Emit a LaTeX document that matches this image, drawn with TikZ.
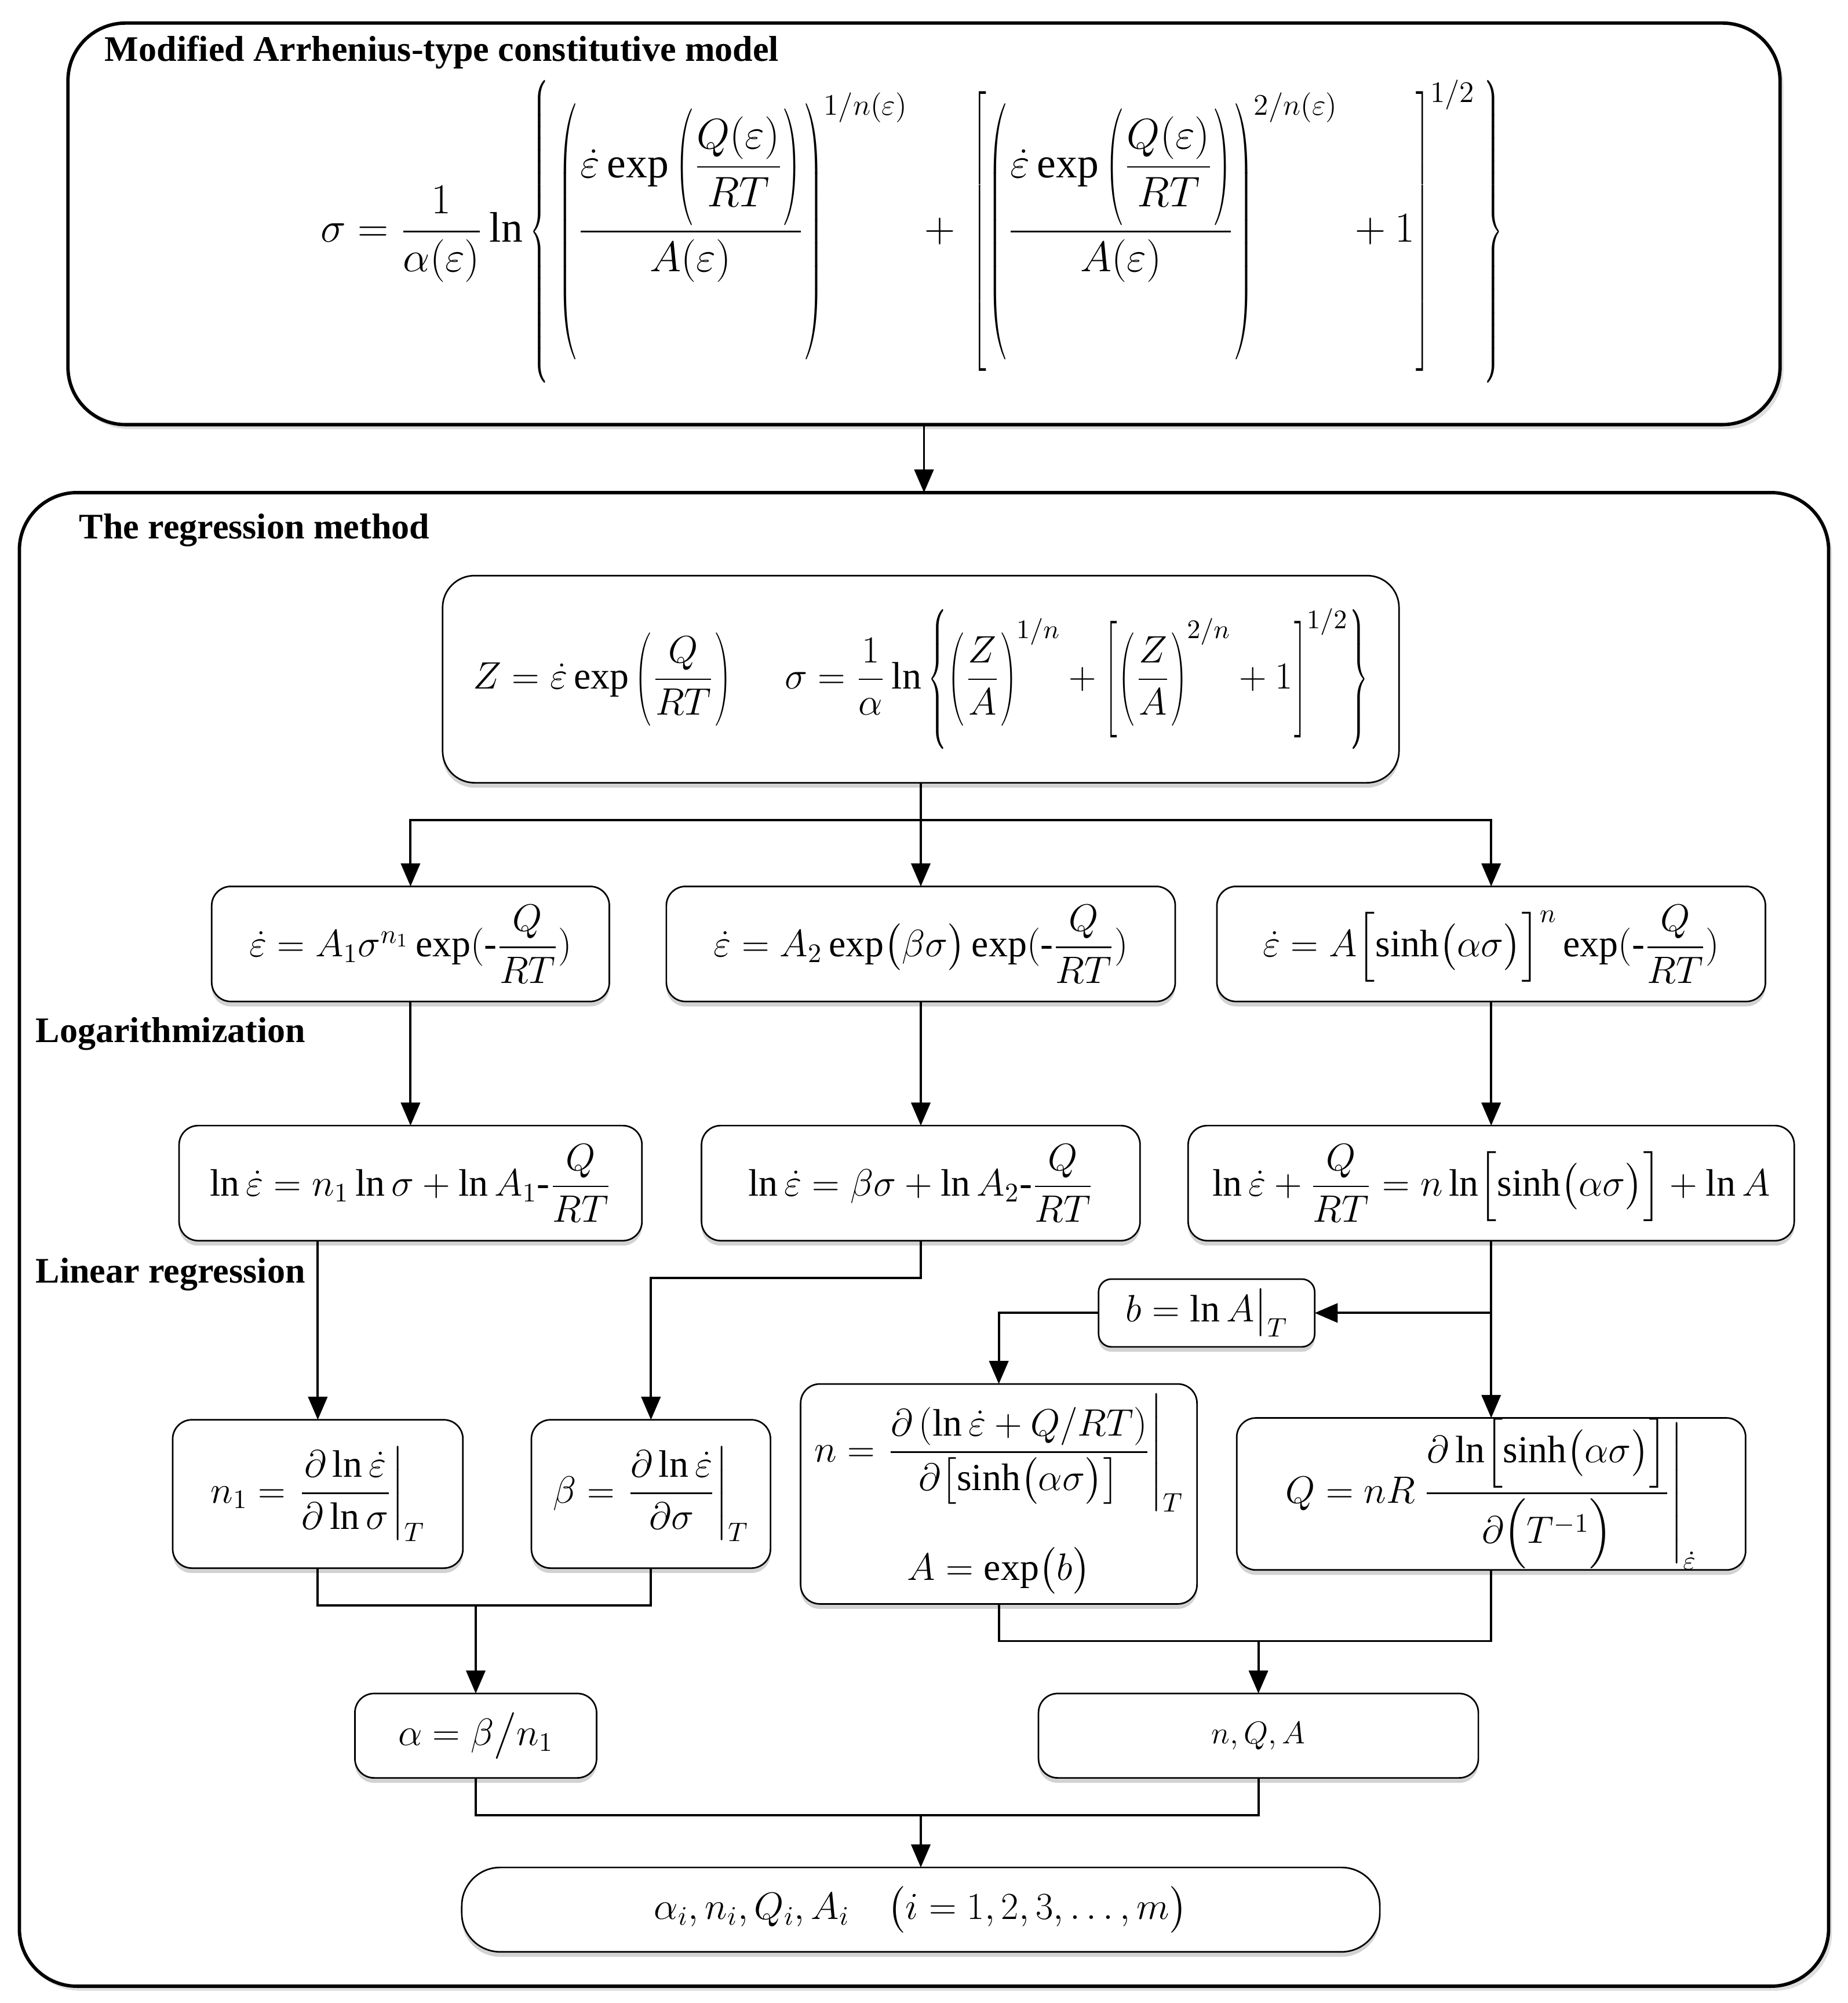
\RequirePackage{fix-cm}
\documentclass[tikz,border=0pt]{standalone}
\usepackage{amsmath}
\usepackage{graphicx}
\usepackage{fontspec}
\setmainfont{Liberation Serif}
\usetikzlibrary{arrows.meta,shadows}
\newcommand{\tstrut}[1]{\vcenter{\hbox{\rule{0pt}{#1}}}}
\newcommand{\dl}[2]{\scalebox{0.55}[1]{$\left#1\tstrut{#2}\right.$}}
\newcommand{\dr}[2]{\scalebox{0.55}[1]{$\left.\tstrut{#2}\right#1$}}
\newcommand{\edot}{\dot{\varepsilon}}
\newcommand{\mfs}{\fontsize{17}{20}\selectfont}
\begin{document}
\begin{tikzpicture}[x=0.02cm,y=-0.02cm,
  every node/.style={inner sep=0pt, outer sep=0pt},
  bigbox/.style={draw=black, line width=1.5pt, rounded corners=0.9cm, fill=white,
     drop shadow={shadow xshift=1.5pt, shadow yshift=-2pt, opacity=0.25}},
  sbox/.style={draw=black, line width=0.7pt, rounded corners=0.3cm, fill=white,
     drop shadow={shadow xshift=0pt, shadow yshift=-2.2pt, opacity=0.35}, font=\mfs},
  lbl/.style={anchor=base west, font=\fontsize{16}{19}\selectfont\bfseries},
  ln/.style={line width=1pt},
  arr/.style={line width=1pt, -{Triangle[length=0.36cm,width=0.3cm]}}]
\fill[white] (0,0) rectangle (1445,1566);
\useasboundingbox (0,0) rectangle (1445,1566);

% top box
\node[bigbox, minimum width=26.78cm, minimum height=6.28cm] (topbox) at (722.5,175) {};
\node[lbl] (toptitle) at (82,48) {Modified Arrhenius-type constitutive model};
\node[font=\fontsize{19}{23}\selectfont] (topeq) at (713,181) {$\displaystyle
 \sigma=\frac{1}{\alpha(\varepsilon)}\ln\dl\{{4.75cm}\,
 \dl({3.95cm}\frac{\edot\exp\dl({1.85cm}\dfrac{Q(\varepsilon)}{RT}\dr){1.85cm}}{A(\varepsilon)}\dr){3.95cm}^{1/n(\varepsilon)}
 \,+\,\dl[{4.4cm}
 \dl({3.95cm}\frac{\edot\exp\dl({1.85cm}\dfrac{Q(\varepsilon)}{RT}\dr){1.85cm}}{A(\varepsilon)}\dr){3.95cm}^{2/n(\varepsilon)}
 \,+1\dr]{4.4cm}^{1/2}\,\dr\}{4.75cm}$};

% regression box
\node[bigbox, minimum width=28.30cm, minimum height=23.36cm] (regbox) at (722.5,969) {};
\node[lbl] (regtitle) at (62,421) {The regression method};
\node[lbl] (loglbl) at (28,815) {Logarithmization};
\node[lbl] (linlbl) at (28,1003) {Linear regression};

\node[sbox, rounded corners=0.5cm, minimum width=14.96cm, minimum height=3.24cm] (zbox) at (720,531)
 {$\displaystyle Z=\edot\exp\dl({1.6cm}\frac{Q}{RT}\dr){1.6cm}\hspace{1.4em}
 \sigma=\frac{1}{\alpha}\ln\dl\{{2.24cm}\dl({1.6cm}\frac{Z}{A}\dr){1.6cm}^{1/n}+\dl[{1.9cm}\dl({1.6cm}\frac{Z}{A}\dr){1.6cm}^{2/n}+1\dr]{1.9cm}^{1/2}\dr\}{2.24cm}$};

% row 1
\node[sbox, minimum width=6.22cm, minimum height=1.80cm] (b1) at (321,738)
 {$\edot=A_1\sigma^{n_1}\exp(\mbox{-}\dfrac{Q}{RT})$};
\node[sbox, minimum width=7.96cm, minimum height=1.80cm] (b2) at (720,738)
 {$\edot=A_2\exp\bigl(\beta\sigma\bigr)\exp(\mbox{-}\dfrac{Q}{RT})$};
\node[sbox, minimum width=8.58cm, minimum height=1.80cm] (b3) at (1166,738)
 {$\edot=A\Bigl[\sinh\bigl(\alpha\sigma\bigr)\Bigr]^n\exp(\mbox{-}\dfrac{Q}{RT})$};

% row 2
\node[sbox, minimum width=7.24cm, minimum height=1.80cm] (c1) at (321,925)
 {$\ln\edot=n_1\ln\sigma+\ln A_1\mbox{-}\dfrac{Q}{RT}$};
\node[sbox, minimum width=6.86cm, minimum height=1.80cm] (c2) at (720,925)
 {$\ln\edot=\beta\sigma+\ln A_2\mbox{-}\dfrac{Q}{RT}$};
\node[sbox, minimum width=9.48cm, minimum height=1.80cm] (c3) at (1166,925)
 {$\ln\edot+\dfrac{Q}{RT}=n\ln\Bigl[\sinh\bigl(\alpha\sigma\bigr)\Bigr]+\ln A$};

\node[sbox, rounded corners=0.2cm, minimum width=3.38cm, minimum height=1.06cm] (bb) at (943.5,1026.5)
 {$b=\ln A\bigr|_T$};

% row 3
\node[sbox, minimum width=4.54cm, minimum height=2.32cm] (d1) at (248.5,1168)
 {$\displaystyle n_1=\left.\frac{\partial\ln\edot}{\partial\ln\sigma}\right|_T$};
\node[sbox, minimum width=3.74cm, minimum height=2.32cm] (d2) at (509,1168)
 {$\displaystyle \beta=\left.\frac{\partial\ln\edot}{\partial\sigma}\right|_T$};
\node[sbox, minimum width=6.20cm, minimum height=3.44cm] (d3) at (781,1168)
 {$\displaystyle\begin{array}{c}
 n=\left.\dfrac{\partial\left(\ln\edot+Q\middle/RT\right)}{\partial\bigl[\sinh\bigl(\alpha\sigma\bigr)\bigr]}\right|_T\\[32pt]
 A=\exp\bigl(b\bigr)\end{array}$};
\node[sbox, minimum width=7.96cm, minimum height=2.32cm] (d4) at (1166,1168)
 {$\displaystyle Q=nR\left.\frac{\partial\ln\Bigl[\sinh\bigl(\alpha\sigma\bigr)\Bigr]}{\partial\Bigl(T^{-1}\Bigr)}\right|_{\edot}$};

% row 4
\node[sbox, minimum width=3.78cm, minimum height=1.32cm] (e1) at (372,1357)
 {$\alpha=\beta\big/n_1$};
\node[sbox, minimum width=6.88cm, minimum height=1.32cm, font=\fontsize{14}{17}\selectfont] (e2) at (984,1357)
 {$n,Q,A$};

% final
\node[sbox, rounded corners=0.6cm, minimum width=14.36cm, minimum height=1.32cm] (f) at (720,1493)
 {$\alpha_i,n_i,Q_i,A_i\quad\bigl(i=1,2,3,\ldots,m\bigr)$};

% connectors
\draw[arr] (topbox.south) -- (regbox.north);
\coordinate (j1) at (720,641);
\draw[arr] (zbox.south) -- (b2.north);
\draw[arr] (j1) -| (b1.north);
\draw[arr] (j1) -| (b3.north);
\draw[arr] (b1.south) -- (c1.north);
\draw[arr] (b2.south) -- (c2.north);
\draw[arr] (b3.south) -- (c3.north);
\draw[arr] (c1.south -| d1.north) -- (d1.north);
\coordinate (j2) at (720,999);
\draw[arr] (c2.south) -- (j2) -| (d2.north);
\draw[arr] (c3.south) -- (d4.north);
\draw[arr] (c3.south |- bb.east) -- (bb.east);
\draw[arr] (bb.west) -| (d3.north);
\coordinate (j3) at (372,1255);
\draw[ln] (d1.south) -- (d1.south |- j3) -- (d2.south |- j3) -- (d2.south);
\draw[arr] (j3) -- (e1.north);
\coordinate (j4) at (984,1283);
\draw[ln] (d3.south) -- (d3.south |- j4) -- (d4.south |- j4) -- (d4.south);
\draw[arr] (j4) -- (e2.north);
\coordinate (j5) at (720,1419);
\draw[ln] (e1.south) -- (e1.south |- j5) -- (e2.south |- j5) -- (e2.south);
\draw[arr] (j5) -- (f.north);
\end{tikzpicture}
\end{document}
